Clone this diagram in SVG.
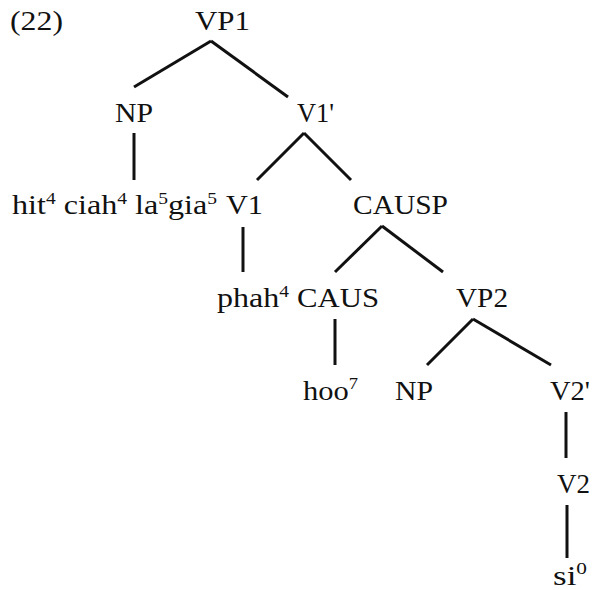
<svg xmlns="http://www.w3.org/2000/svg" width="592" height="590" viewBox="0 0 592 590">
<style>
text{font-family:"Liberation Serif","Times New Roman",serif;font-size:28px;fill:#111}
.sup{font-size:17px}
.e line{stroke:#111;stroke-width:3;stroke-linecap:butt}
</style>
<rect width="592" height="590" fill="#fff"/>
<text x="10" y="30" textLength="53" lengthAdjust="spacingAndGlyphs">(22)</text>
<g id="VP1"><text x="195" y="30" textLength="55" lengthAdjust="spacingAndGlyphs">VP1</text></g>
<g id="NP1"><text x="115" y="122" textLength="38" lengthAdjust="spacingAndGlyphs">NP</text></g>
<g id="V1bar"><text x="297" y="122" textLength="37" lengthAdjust="spacingAndGlyphs">V1'</text></g>
<g id="hitciah"><text x="12" y="214" textLength="205" lengthAdjust="spacingAndGlyphs">hit<tspan class="sup" dy="-10">4</tspan><tspan dy="10"> ciah</tspan><tspan class="sup" dy="-10">4</tspan><tspan dy="10"> la</tspan><tspan class="sup" dy="-10">5</tspan><tspan dy="10">gia</tspan><tspan class="sup" dy="-10">5</tspan></text></g>
<g id="V1"><text x="226" y="214" textLength="37" lengthAdjust="spacingAndGlyphs">V1</text></g>
<g id="CAUSP"><text x="353" y="214" textLength="95" lengthAdjust="spacingAndGlyphs">CAUSP</text></g>
<g id="phah"><text x="217" y="307" textLength="72" lengthAdjust="spacingAndGlyphs">phah<tspan class="sup" dy="-10">4</tspan></text></g>
<g id="CAUS"><text x="297" y="307" textLength="82" lengthAdjust="spacingAndGlyphs">CAUS</text></g>
<g id="VP2"><text x="456" y="307" textLength="52" lengthAdjust="spacingAndGlyphs">VP2</text></g>
<g id="hoo"><text x="303" y="400" textLength="55" lengthAdjust="spacingAndGlyphs">hoo<tspan class="sup" dy="-11">7</tspan></text></g>
<g id="NP2"><text x="395" y="400" textLength="38" lengthAdjust="spacingAndGlyphs">NP</text></g>
<g id="V2bar"><text x="550" y="400" textLength="40" lengthAdjust="spacingAndGlyphs">V2'</text></g>
<g id="V2"><text x="557" y="493" textLength="33" lengthAdjust="spacingAndGlyphs">V2</text></g>
<g id="si"><text x="553" y="585" textLength="34" lengthAdjust="spacingAndGlyphs">si<tspan class="sup" dy="-11">0</tspan></text></g>
<g id="edges" class="e">
<line x1="211" y1="41" x2="134" y2="87"/>
<line x1="211" y1="41" x2="288" y2="97"/>
<line x1="134" y1="133" x2="134" y2="180"/>
<line x1="304" y1="133" x2="257" y2="180"/>
<line x1="304" y1="133" x2="351" y2="180"/>
<line x1="243" y1="227" x2="243" y2="272"/>
<line x1="382" y1="226" x2="335" y2="272"/>
<line x1="382" y1="226" x2="443" y2="272"/>
<line x1="335" y1="319" x2="335" y2="365"/>
<line x1="473" y1="319" x2="427" y2="365"/>
<line x1="473" y1="319" x2="551" y2="365"/>
<line x1="566" y1="412" x2="566" y2="458"/>
<line x1="567" y1="505" x2="567" y2="558"/>
</g>
</svg>
